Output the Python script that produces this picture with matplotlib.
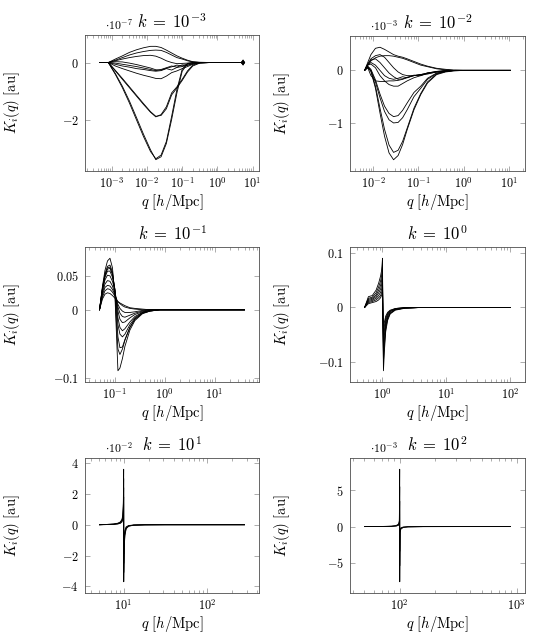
import numpy as np
import matplotlib.pyplot as plt
from matplotlib.ticker import FixedLocator, FuncFormatter, LogLocator, NullFormatter

plt.rcParams['mathtext.fontset'] = 'cm'
plt.rcParams['font.family'] = 'serif'

# ---- data: log10(q) grids and K_i(q) in units of 10^exp ----
# k = 1e-3
lq1 = [-3.35, -3.1, -2.9, -2.7, -2.5, -2.3, -2.1, -1.9, -1.75, -1.6, -1.45,
       -1.3, -1.15, -1.0, -0.85, -0.7, -0.5, -0.2, 0.2, 0.68, 0.73, 0.77]
k1_curves = [
    [0, 0, -0.41, -0.87, -1.40, -1.98, -2.56, -3.08, -3.33, -3.20, -2.73, -1.86, -0.93, -0.23, -0.03, 0, 0, 0, 0, 0, 0.09, 0],
    [0, 0, -0.38, -0.82, -1.33, -1.90, -2.48, -3.02, -3.36, -3.26, -2.80, -1.97, -1.05, -0.30, -0.05, 0, 0, 0, 0, 0, -0.09, 0],
    [0, 0, -0.29, -0.58, -0.87, -1.16, -1.45, -1.72, -1.88, -1.80, -1.53, -1.05, -0.84, -0.58, -0.29, -0.09, -0.01, 0, 0, 0, 0.06, 0],
    [0, 0, -0.27, -0.55, -0.84, -1.13, -1.42, -1.70, -1.86, -1.83, -1.60, -1.12, -0.88, -0.62, -0.33, -0.12, -0.02, 0, 0, 0, -0.06, 0],
    [0, 0, -0.12, -0.21, -0.29, -0.37, -0.44, -0.50, -0.55, -0.56, -0.47, -0.35, -0.29, -0.21, -0.14, -0.06, -0.01, 0, 0, 0, 0.04, 0],
    [0, 0, -0.06, -0.12, -0.16, -0.21, -0.24, -0.28, -0.30, -0.28, -0.21, -0.26, -0.17, -0.14, -0.09, -0.05, -0.01, 0, 0, 0, -0.04, 0],
    [0, 0, -0.02, -0.06, -0.10, -0.14, -0.19, -0.24, -0.28, -0.24, -0.18, -0.12, -0.16, -0.08, -0.10, -0.03, -0.01, 0, 0, 0, 0.02, 0],
    [0, 0, 0.03, 0.02, -0.02, -0.07, -0.13, -0.19, -0.25, -0.26, -0.20, -0.15, -0.09, -0.12, -0.05, -0.02, 0, 0, 0, 0, -0.02, 0],
    [0, 0, 0.12, 0.23, 0.35, 0.44, 0.51, 0.56, 0.56, 0.52, 0.43, 0.33, 0.23, 0.15, 0.08, 0.03, 0.01, 0, 0, 0, 0.07, 0],
    [0, 0, 0.08, 0.17, 0.26, 0.33, 0.38, 0.42, 0.43, 0.42, 0.35, 0.26, 0.17, 0.12, 0.06, 0.02, 0, 0, 0, 0, -0.07, 0],
    [0, 0, 0.06, 0.12, 0.17, 0.21, 0.24, 0.25, 0.22, 0.15, 0.06, 0.0, -0.04, -0.03, -0.02, -0.01, 0, 0, 0, 0, 0.0, 0],
]

# k = 1e-2
lq2 = [-2.19, -2.12, -2.05, -1.95, -1.85, -1.75, -1.65, -1.55, -1.45, -1.35,
       -1.25, -1.1, -0.95, -0.8, -0.6, -0.4, -0.2, 0.0, 0.5, 1.03]
k2_curves = [
    [0, 0.06, -0.02, -0.34, -0.81, -1.25, -1.57, -1.70, -1.62, -1.41, -1.13, -0.75, -0.46, -0.24, -0.08, -0.03, -0.01, 0, 0, 0],
    [0, 0.05, -0.01, -0.30, -0.72, -1.12, -1.42, -1.56, -1.52, -1.35, -1.10, -0.72, -0.44, -0.22, -0.07, -0.02, 0, 0, 0, 0],
    [0, 0.08, 0.02, -0.18, -0.45, -0.68, -0.82, -0.88, -0.86, -0.76, -0.62, -0.42, -0.30, -0.15, -0.05, -0.02, 0, 0, 0, 0],
    [0, 0.07, 0.0, -0.22, -0.52, -0.78, -0.94, -1.00, -0.99, -0.90, -0.75, -0.50, -0.34, -0.17, -0.06, -0.02, 0, 0, 0, 0],
    [0, 0.10, 0.12, 0.05, -0.10, -0.20, -0.27, -0.30, -0.30, -0.25, -0.20, -0.14, -0.10, -0.06, -0.03, -0.01, 0, 0, 0, 0],
    [0, 0.10, 0.15, 0.10, 0.0, -0.10, -0.15, -0.17, -0.15, -0.12, -0.14, -0.09, -0.10, -0.05, -0.03, -0.01, 0, 0, 0, 0],
    [0, 0.12, 0.20, 0.22, 0.15, 0.05, -0.05, -0.12, -0.17, -0.16, -0.13, -0.10, -0.08, -0.07, -0.03, -0.01, 0, 0, 0, 0],
    [0, 0.05, -0.10, -0.20, -0.21, -0.21, -0.20, -0.20, -0.19, -0.17, -0.14, -0.10, -0.08, -0.05, -0.02, -0.01, 0, 0, 0, 0],
    [0, 0.15, 0.30, 0.42, 0.44, 0.40, 0.35, 0.30, 0.27, 0.25, 0.22, 0.17, 0.12, 0.08, 0.04, 0.02, 0.005, 0, 0, 0],
    [0, 0.10, 0.18, 0.24, 0.27, 0.28, 0.28, 0.27, 0.25, 0.23, 0.20, 0.15, 0.10, 0.07, 0.03, 0.01, 0, 0, 0, 0],
    [0, 0.12, 0.22, 0.28, 0.30, 0.25, 0.15, 0.05, -0.03, -0.08, -0.10, -0.10, -0.08, -0.05, -0.02, 0, 0, 0, 0, 0],
]

# k = 1e-1
lq3 = [-1.31, -1.25, -1.2, -1.15, -1.1, -1.05, -1.0, -0.97, -0.94, -0.9,
       -0.85, -0.8, -0.7, -0.6, -0.45, -0.3, -0.1, 0.2, 0.8, 1.6]
k3_curves = [
    [0, 0.035, 0.058, 0.072, 0.076, 0.062, 0.020, -0.035, -0.090, -0.086, -0.072, -0.054, -0.030, -0.016, -0.006, -0.002, 0, 0, 0, 0],
    [0, 0.033, 0.053, 0.064, 0.066, 0.056, 0.025, -0.020, -0.058, -0.066, -0.058, -0.045, -0.026, -0.014, -0.005, -0.002, 0, 0, 0, 0],
    [0, 0.032, 0.051, 0.062, 0.063, 0.053, 0.028, -0.005, -0.040, -0.056, -0.055, -0.044, -0.026, -0.014, -0.005, -0.002, 0, 0, 0, 0],
    [0, 0.031, 0.050, 0.060, 0.061, 0.052, 0.030, 0.005, -0.022, -0.036, -0.040, -0.036, -0.022, -0.012, -0.004, -0.001, 0, 0, 0, 0],
    [0, 0.030, 0.048, 0.057, 0.057, 0.048, 0.030, 0.010, -0.012, -0.026, -0.031, -0.028, -0.018, -0.010, -0.004, -0.001, 0, 0, 0, 0],
    [0, 0.028, 0.044, 0.051, 0.050, 0.042, 0.028, 0.013, -0.002, -0.014, -0.019, -0.018, -0.012, -0.007, -0.003, -0.001, 0, 0, 0, 0],
    [0, 0.025, 0.038, 0.043, 0.042, 0.035, 0.024, 0.014, 0.004, -0.005, -0.010, -0.011, -0.008, -0.005, -0.002, 0, 0, 0, 0, 0],
    [0, 0.022, 0.033, 0.036, 0.035, 0.030, 0.022, 0.015, 0.008, 0.002, -0.002, -0.004, -0.004, -0.003, -0.001, 0, 0, 0, 0, 0],
    [0, 0.019, 0.028, 0.031, 0.030, 0.026, 0.020, 0.016, 0.012, 0.009, 0.006, 0.004, 0.002, 0.001, 0, 0, 0, 0, 0, 0],
    [0, 0.016, 0.023, 0.025, 0.024, 0.021, 0.017, 0.014, 0.012, 0.010, 0.008, 0.006, 0.003, 0.002, 0.001, 0, 0, 0, 0, 0],
]

# k = 1e0
lq4 = [-0.28, -0.22, -0.16, -0.1, -0.06, -0.03, -0.015, -0.005, 0.0, 0.006,
       0.015, 0.03, 0.05, 0.08, 0.12, 0.2, 0.35, 0.6, 1.2, 2.0]
k4_curves = [
    [0, 0.020, 0.022, 0.032, 0.045, 0.058, 0.068, 0.082, 0.091, -0.030, -0.117, -0.080, -0.045, -0.024, -0.012, -0.005, -0.0015, 0, 0, 0],
    [0, 0.017, 0.019, 0.027, 0.038, 0.049, 0.058, 0.070, 0.078, -0.025, -0.100, -0.070, -0.040, -0.021, -0.011, -0.004, -0.001, 0, 0, 0],
    [0, 0.015, 0.017, 0.023, 0.032, 0.041, 0.049, 0.059, 0.066, -0.020, -0.085, -0.060, -0.035, -0.019, -0.010, -0.004, -0.001, 0, 0, 0],
    [0, 0.013, 0.015, 0.020, 0.027, 0.034, 0.041, 0.049, 0.055, -0.015, -0.070, -0.050, -0.030, -0.016, -0.008, -0.003, -0.001, 0, 0, 0],
    [0, 0.011, 0.013, 0.017, 0.022, 0.028, 0.033, 0.040, 0.045, -0.012, -0.056, -0.042, -0.025, -0.013, -0.007, -0.003, -0.001, 0, 0, 0],
    [0, 0.009, 0.011, 0.014, 0.018, 0.022, 0.027, 0.032, 0.036, -0.008, -0.044, -0.034, -0.020, -0.011, -0.006, -0.002, 0, 0, 0, 0],
    [0, 0.007, 0.009, 0.011, 0.014, 0.018, 0.022, 0.026, 0.029, -0.005, -0.034, -0.027, -0.016, -0.009, -0.005, -0.002, 0, 0, 0, 0],
]

# k = 1e1
lq5 = [0.71, 0.8, 0.88, 0.93, 0.96, 0.98, 0.99, 0.996, 1.0, 1.001,
       1.006, 1.015, 1.03, 1.06, 1.12, 1.25, 1.5, 2.0, 2.45]
k5_curves = [
    [0, 0.02, 0.05, 0.10, 0.18, 0.35, 0.65, 1.4, 3.6, -3.7, -1.5, -0.70, -0.26, -0.10, -0.03, -0.01, 0, 0, 0],
    [0, 0.02, 0.04, 0.08, 0.15, 0.30, 0.55, 1.2, 3.0, -3.1, -1.3, -0.60, -0.22, -0.08, -0.03, -0.01, 0, 0, 0],
    [0, 0.01, 0.03, 0.06, 0.12, 0.24, 0.45, 1.0, 2.4, -2.5, -1.0, -0.48, -0.18, -0.07, -0.02, 0, 0, 0, 0],
    [0, 0.01, 0.02, 0.05, 0.09, 0.18, 0.35, 0.8, 1.8, -1.9, -0.8, -0.36, -0.14, -0.05, -0.02, 0, 0, 0, 0],
]

# k = 1e2
lq6 = [1.70, 1.85, 1.93, 1.97, 1.99, 1.997, 2.0, 2.0005, 2.003, 2.01,
       2.03, 2.07, 2.2, 2.5, 2.946]
k6_curves = [
    [0, 0.02, 0.06, 0.15, 0.35, 0.8, 7.9, -7.6, -0.8, -0.35, -0.12, -0.04, -0.01, 0, 0],
    [0, 0.01, 0.04, 0.10, 0.25, 0.6, 5.5, -5.4, -0.6, -0.25, -0.09, -0.03, 0, 0, 0],
    [0, 0.01, 0.03, 0.07, 0.18, 0.4, 3.5, -3.4, -0.4, -0.17, -0.06, -0.02, 0, 0, 0],
]

titles = [r'$k\;=\;10^{-3}$', r'$k\;=\;10^{-2}$', r'$k\;=\;10^{-1}$',
          r'$k\;=\;10^{0}$', r'$k\;=\;10^{1}$', r'$k\;=\;10^{2}$']
exps = [-7, -3, 0, 0, -2, -3]
yticks = [[-2, 0], [-1, 0], [-0.1, 0, 0.05], [-0.1, 0, 0.1],
          [-4, -2, 0, 2, 4], [-5, 0, 5]]
panels = [(lq1, k1_curves), (lq2, k2_curves), (lq3, k3_curves),
          (lq4, k4_curves), (lq5, k5_curves), (lq6, k6_curves)]

W, H = 535, 644
fig = plt.figure(figsize=(W / 100, H / 100), dpi=100)

# axes boxes in pixels: left, top, width, height
boxes = [(85, 35, 174, 136), (350, 36, 175, 135),
         (85, 247, 174, 135), (350, 247, 175, 135),
         (85, 458, 174, 135), (350, 458, 175, 135)]


def dec_label(v, pos):
    return r'$10^{%d}$' % round(np.log10(v))


for i, ((lq, curves), box) in enumerate(zip(panels, boxes)):
    l, t, w, h = box
    ax = fig.add_axes([l / W, 1 - (t + h) / H, w / W, h / H])
    scale = 10.0 ** exps[i]
    q = 10.0 ** np.array(lq)
    for c in curves:
        ax.plot(q, np.array(c) * scale, color='black', lw=0.6)
    ax.set_xscale('log')
    ax.margins(x=0.1, y=0.1)

    ax.xaxis.set_major_locator(LogLocator(base=10, numticks=20))
    ax.xaxis.set_minor_locator(LogLocator(base=10, subs=np.arange(2, 10), numticks=20))
    ax.xaxis.set_major_formatter(FuncFormatter(dec_label))
    ax.xaxis.set_minor_formatter(NullFormatter())
    ax.yaxis.set_major_locator(FixedLocator([v * scale for v in yticks[i]]))
    ax.yaxis.set_major_formatter(
        FuncFormatter(lambda v, p, s=scale: r'$%g$' % round(v / s, 6)))

    ax.tick_params(which='both', direction='in', top=True, right=True,
                   color='0.55', width=0.5, labelsize=8.8)
    ax.tick_params(which='major', length=3.6)
    ax.tick_params(which='minor', length=2.2)
    ax.tick_params(axis='x', pad=3.5)
    ax.tick_params(axis='y', pad=4.5)
    for sp in ax.spines.values():
        sp.set_color('0.3')
        sp.set_linewidth(0.6)

    ax.set_title(titles[i], fontsize=12, pad=5)
    ax.set_xlabel(r'$q\ [h/\mathrm{Mpc}]$', fontsize=10.5)
    ax.set_ylabel(r'$K_i(q)\ [\mathrm{au}]$', fontsize=10.5)
    ax.xaxis.set_label_coords(0.5, -0.155)
    ax.yaxis.set_label_coords(-0.36 if l < 200 else -0.33, 0.5)

    if exps[i] != 0:
        ax.text(0.115, 1.015, r'$\cdot 10^{%d}$' % exps[i], transform=ax.transAxes,
                ha='left', va='bottom', fontsize=8.5)

fig.savefig('out.png', dpi=100)
